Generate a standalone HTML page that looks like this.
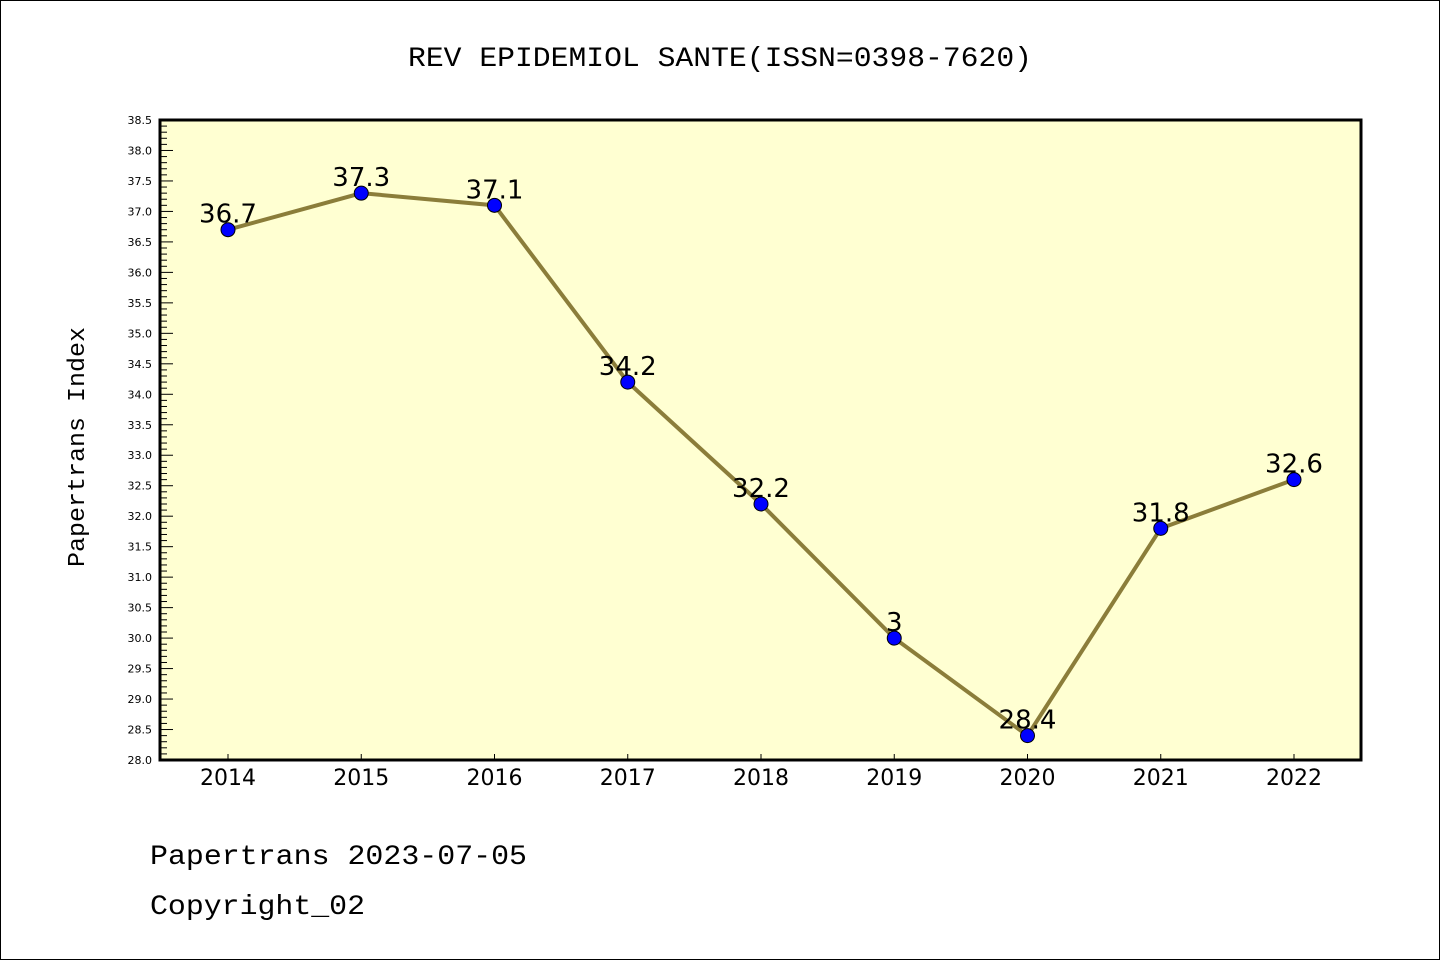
<!DOCTYPE html>
<html><head><meta charset="utf-8"><style>
body{margin:0;background:#fff;}
svg{display:block;font-family:"WenQuanYi Zen Hei Mono","WenQuanYi Zen Hei","Liberation Mono",monospace;}
</style></head><body>
<svg id="chart" width="1440" height="960" xmlns="http://www.w3.org/2000/svg">
<rect x="0.5" y="0.5" width="1439" height="959" fill="#fff" stroke="#000"/>
<text x="408" y="66" font-size="28" textLength="624" lengthAdjust="spacingAndGlyphs">REV EPIDEMIOL SANTE(ISSN=0398-7620)</text>
<rect x="160" y="120" width="1201" height="640" fill="#ffffd2"/>
<g id="axes"></g>
<text transform="translate(84,567) rotate(-90)" font-size="24" textLength="240" lengthAdjust="spacingAndGlyphs">Papertrans Index</text>
<text x="150" y="864" font-size="28" textLength="377" lengthAdjust="spacingAndGlyphs">Papertrans 2023-07-05</text>
<text x="150" y="914" font-size="28" textLength="215" lengthAdjust="spacingAndGlyphs">Copyright_02</text>
</svg>
<script>
const years=[2014,2015,2016,2017,2018,2019,2020,2021,2022];
const values=[36.7,37.3,37.1,34.2,32.2,30.0,28.4,31.8,32.6];
const labels=["36.7","37.3","37.1","34.2","32.2","3","28.4","31.8","32.6"];
const yTicks=[28.0,28.5,29.0,29.5,30.0,30.5,31.0,31.5,32.0,32.5,33.0,33.5,34.0,34.5,35.0,35.5,36.0,36.5,37.0,37.5,38.0,38.5];
const NS="http://www.w3.org/2000/svg";
const svgEl=document.getElementById('chart');
const g=document.getElementById('axes');
const yMin=28,yMax=38.5,plotTop=120,plotBot=760;
function ys(v){return plotBot-(v-yMin)/(yMax-yMin)*(plotBot-plotTop);}
function xs(i){return 228+i*133.25;}
function mk(t,a){const e=document.createElementNS(NS,t);for(const k in a)e.setAttribute(k,a[k]);g.appendChild(e);return e;}
for(let k=0;k<=105;k++){const y=ys(yMin+k*0.1);
 const t=mk('line',{x1:160,x2:k%5===0?173:167,y1:y,y2:y,stroke:'#000','stroke-width':1});
 
 }
yTicks.forEach(v=>{const t=mk('text',{x:152,y:ys(v)+4,'font-size':11,'text-anchor':'end','font-family':'"DejaVu Sans",sans-serif'});t.textContent=v.toFixed(1);
 
 });
years.forEach((yr,i)=>{const x=xs(i);
 const tk=mk('line',{x1:x,x2:x,y1:760,y2:754,stroke:'#000'});
 
 
 const t=mk('text',{x:x,y:785,'font-size':22,'text-anchor':'middle','font-family':'"DejaVu Sans",sans-serif'});t.textContent=yr;
 
 });
const border=mk('rect',{x:160,y:120,width:1201,height:640,fill:'none',stroke:'#000','stroke-width':3});


const line=mk('polyline',{points:values.map((v,i)=>xs(i)+','+ys(v)).join(' '),fill:'none',stroke:'#8b7d3a','stroke-width':4});


values.forEach((v,i)=>{
 const c=mk('circle',{cx:xs(i),cy:ys(v),r:7,fill:'#0000ff',stroke:'#000','stroke-width':1});
 
 
 const t=mk('text',{x:xs(i),y:ys(v)-7,'font-size':26,'text-anchor':'middle','font-family':'"DejaVu Sans",sans-serif'});t.textContent=labels[i];
 
 
});
</script>
</body></html>
